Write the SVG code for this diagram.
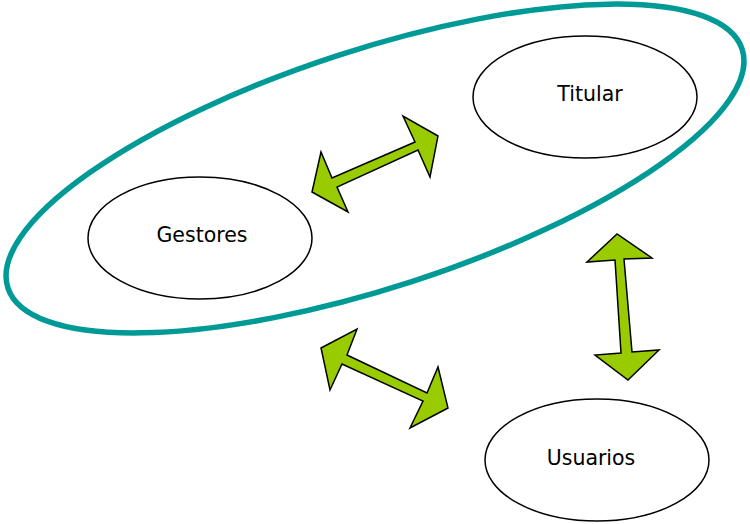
<svg xmlns="http://www.w3.org/2000/svg" width="750" height="524" viewBox="0 0 750 524">
<style>
.node{fill:#fff;stroke:#000;stroke-width:1.5}
.lbl{font-family:"DejaVu Sans",Verdana,sans-serif;font-size:20.5px;fill:#000;text-anchor:middle}
.arr{fill:#99cc00;stroke:#000;stroke-width:1.5;stroke-linejoin:miter}
</style>
<rect width="750" height="524" fill="#fff"/>
<g id="group">
<ellipse cx="375" cy="168.5" rx="386" ry="119" transform="rotate(-18 375 168.5)" fill="none" stroke="#009a96" stroke-width="5.5"/>
</g>
<g id="titular">
<ellipse class="node" cx="585" cy="97" rx="112" ry="61"/>
<text class="lbl" x="590" y="101">Titular</text>
</g>
<g id="gestores">
<ellipse class="node" cx="200" cy="238" rx="112" ry="61"/>
<text class="lbl" x="202" y="242">Gestores</text>
</g>
<g id="usuarios">
<ellipse class="node" cx="597" cy="460" rx="112" ry="61"/>
<text class="lbl" x="591" y="465">Usuarios</text>
</g>
<g id="connectors">
<polygon class="arr" points="312,192 321,152 332,178 415,142 403,116 438,136 430,177 418,150 337,187 348,212"/>
<polygon class="arr" points="617,234 587,262 615,260 621,353 595,355 628,380 659,350 632,352 624,259 652,258"/>
<polygon class="arr" points="321,348 357,329 347,355 427,393 438,367 448,408 410,428 423,401 342,364 330,390"/>
</g>
</svg>
